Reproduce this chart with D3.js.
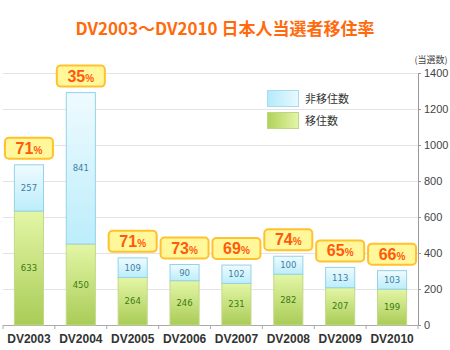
<!DOCTYPE html>
<html><head><meta charset="utf-8">
<script src="https://cdn.jsdelivr.net/npm/d3@7/dist/d3.min.js"></script>
<style>html,body{margin:0;padding:0;background:#fff;}svg{display:block;}</style>
</head><body>
<script>
const categories = ["DV2003","DV2004","DV2005","DV2006","DV2007","DV2008","DV2009","DV2010"];
const moved =    [633, 450, 264, 246, 231, 282, 207, 199];
const notMoved = [257, 841, 109,  90, 102, 100, 113, 103];
const rates =    [71, 35, 71, 73, 69, 74, 65, 66];
const yTicks =   [0, 200, 400, 600, 800, 1000, 1200, 1400];
const seriesNames = ["非移住数", "移住数"];
const title = "DV2003〜DV2010 日本人当選者移住率";
const unitLabel = "(当選数)";

const W = 450, H = 350;
const svg = d3.select("body").append("svg").attr("width", W).attr("height", H);
const defs = svg.append("defs");
function grad(id, x2, y2, stops){
  const g = defs.append("linearGradient").attr("id", id).attr("x1","0").attr("y1","0").attr("x2",x2).attr("y2",y2);
  stops.forEach(([o,c]) => g.append("stop").attr("offset", o).attr("stop-color", c));
}
grad("gBlue", 0, 1, [["0%","#effbfe"],["100%","#bcedfb"]]);
grad("gGreen", 0, 1, [["0%","#e4f6a6"],["100%","#a9cc57"]]);
grad("lBlue", 1, 0, [["0%","#b3eafb"],["100%","#e8f9fe"]]);
grad("lGreen", 1, 0, [["0%","#b0d259"],["100%","#e4f5a9"]]);

const x = d3.scaleBand().domain(categories).range([3, 418]).paddingInner(0.42).paddingOuter(0.21);
const y = d3.scaleLinear().domain([0, 1400]).range([325, 73]);

// gridlines
svg.append("g").selectAll("line").data(yTicks.filter(t => t > 0)).join("line")
  .attr("x1", 3).attr("x2", 418).attr("y1", d => y(d)).attr("y2", d => y(d))
  .attr("stroke", "#e3e3e3").attr("stroke-width", 1).attr("shape-rendering","crispEdges");

// title
svg.append("text").attr("x", 225).attr("y", 35).attr("text-anchor", "middle")
  .attr("font-family", "'Noto Sans CJK JP', sans-serif").attr("font-weight", "bold")
  .attr("font-size", 17).attr("fill", "#ff6a0d").text(title);

// right axis
const yAxis = d3.axisRight(y).tickValues(yTicks).tickSize(3).tickPadding(3).tickFormat(d3.format("d"));
const ya = svg.append("g").attr("transform", "translate(418,0)").call(yAxis);
ya.select(".domain").attr("stroke", "#999");
ya.selectAll(".tick line").attr("stroke", "#999");
ya.selectAll(".tick text").attr("font-family", "'Liberation Sans', Arial, sans-serif")
  .attr("font-size", 11).attr("fill", "#444");
svg.append("text").attr("x", 431).attr("y", 63).attr("text-anchor", "middle")
  .attr("font-family", "'Noto Sans CJK JP', sans-serif").attr("font-size", 9).attr("fill", "#444").text(unitLabel);

// x baseline & ticks
svg.append("line").attr("x1", 3).attr("x2", 418).attr("y1", 325.5).attr("y2", 325.5).attr("stroke", "#aaa");
const bounds = d3.range(categories.length + 1).map(i => x.range()[0] + i * x.step());
svg.append("g").selectAll("line").data(bounds).join("line")
  .attr("x1", d => d).attr("x2", d => d).attr("y1", 325).attr("y2", 329).attr("stroke", "#aaa");

// category labels
svg.append("g").selectAll("text").data(categories).join("text")
  .attr("x", d => x(d) + x.bandwidth()/2).attr("y", 343).attr("text-anchor", "middle")
  .attr("font-family", "'Liberation Sans', Arial, sans-serif").attr("font-weight", "bold")
  .attr("font-size", 12).attr("fill", "#333").text(d => d);

const data = categories.map((c, i) => ({c, m: moved[i], n: notMoved[i], r: rates[i]}));
const bw = x.bandwidth();

// green segments
svg.append("g").selectAll("rect").data(data).join("rect")
  .attr("x", d => x(d.c) + 0.5).attr("y", d => y(d.m))
  .attr("width", bw - 1).attr("height", d => y(0) - y(d.m))
  .attr("fill", "url(#gGreen)").attr("stroke", "#c2d98a").attr("stroke-width", 1);
// blue segments
svg.append("g").selectAll("rect").data(data).join("rect")
  .attr("x", d => x(d.c) + 0.5).attr("y", d => y(d.m + d.n))
  .attr("width", bw - 1).attr("height", d => y(d.m) - y(d.m + d.n))
  .attr("fill", "url(#gBlue)").attr("stroke", "#93d3e6").attr("stroke-width", 1);

// value labels
svg.append("g").selectAll("text").data(data).join("text")
  .attr("x", d => x(d.c) + bw/2).attr("y", d => y(d.m/2) + 3).attr("text-anchor", "middle")
  .attr("font-family", "'DejaVu Sans', sans-serif").attr("font-size", 8.5).attr("fill", "#3d7a12").text(d => d.m);
svg.append("g").selectAll("text").data(data).join("text")
  .attr("x", d => x(d.c) + bw/2).attr("y", d => y(d.m + d.n/2) + 3).attr("text-anchor", "middle")
  .attr("font-family", "'DejaVu Sans', sans-serif").attr("font-size", 8.5).attr("fill", "#3c7ea6").text(d => d.n);

// rate badges
const bW = 48, bH = 21;
const badges = svg.append("g").selectAll("g").data(data).join("g")
  .attr("transform", d => `translate(${x(d.c) + bw/2 - bW/2},${y(d.m + d.n) - 6 - bH})`);
badges.append("rect").attr("width", bW).attr("height", bH).attr("rx", 4)
  .attr("fill", "#fff79a").attr("stroke", "#ffc12e").attr("stroke-width", 2);
const bt = badges.append("text").attr("x", bW/2).attr("y", 16).attr("text-anchor", "middle")
  .attr("font-family", "'Liberation Sans', Arial, sans-serif").attr("font-weight", "bold").attr("fill", "#ff5a0a");
bt.append("tspan").attr("font-size", 16).text(d => d.r);
bt.append("tspan").attr("font-size", 10).text("%");

// legend
const leg = svg.append("g");
[["lBlue", "#a8dcec"], ["lGreen", "#bcd685"]].forEach(([g, s], i) => {
  leg.append("rect").attr("x", 267.5).attr("y", 90.5 + i * 22).attr("width", 31).attr("height", 16)
    .attr("fill", `url(#${g})`).attr("stroke", s).attr("stroke-width", 1);
  leg.append("text").attr("x", 305).attr("y", 102.5 + i * 22)
    .attr("font-family", "'Noto Sans CJK JP', sans-serif").attr("font-size", 11).attr("fill", "#333")
    .text(seriesNames[i]);
});
</script>
</body></html>
